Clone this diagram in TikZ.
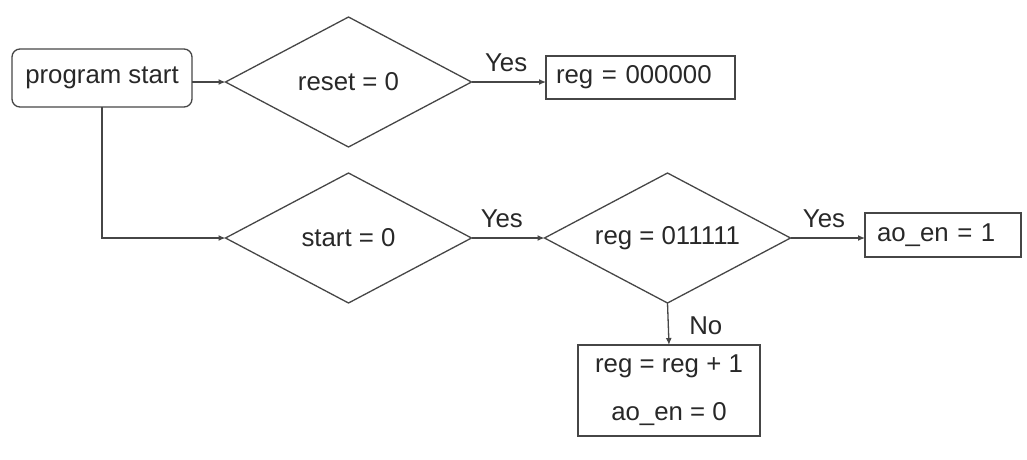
\documentclass[tikz,border=0pt]{standalone}
\usepackage{fontspec}
\setmainfont{Liberation Sans}
\usetikzlibrary{shapes.geometric,arrows.meta}
\definecolor{ln}{RGB}{70,70,70}
\definecolor{tx}{RGB}{40,40,40}
\begin{document}
\begin{tikzpicture}[x=1pt,y=-1pt,
  every node/.style={font=\fontsize{25.8}{30}\selectfont, text=tx},
  box/.style={draw=ln, line width=1.3pt, inner sep=0pt, outer sep=0pt},
  startbox/.style={box, rounded corners=8pt, minimum width=180pt, minimum height=58pt},
  dec/.style={draw=ln, line width=1.3pt, diamond, aspect=1.89, minimum width=246pt, minimum height=130pt, inner sep=0pt, outer sep=0pt},
  conn/.style={draw=ln, line width=1.3pt, -{Latex[length=7pt,width=6pt]}},
  lab/.style={anchor=base, yshift=11pt, inner sep=0pt}
]
\useasboundingbox (0,0) rectangle (1027,459);

\node[startbox] (ps) at (102,78) {program start};
\node[dec] (d1) at (348.5,82) {reset = 0};
\node[dec] (d2) at (348.5,238) {start = 0};
\node[dec] (d3) at (667.5,238) {reg = 011111};
\node[box, minimum width=189pt, minimum height=43pt, text width=169pt, align=left] (r0) at (640.5,77.5) {reg = 000000};
\node[box, minimum width=156pt, minimum height=44pt, text width=132pt, align=left] (ao) at (943,235) {ao\_en = 1};
\node[box, minimum width=182pt, minimum height=91pt, align=center] (r1) at (669,390.5) {reg = reg + 1\\[18pt]ao\_en = 0};

\draw[conn] (ps.east |- d1.west) -- (d1.west);
\draw[conn] (ps.south) -- (ps.south |- d2.west) -- (d2.west);
\draw[conn] (d1.east) -- node[lab, pos=0.465]{Yes} (r0.west |- d1.east);
\draw[conn] (d2.east) -- node[lab, pos=0.415]{Yes} (d3.west);
\draw[conn] (d3.east) -- node[lab, pos=0.45]{Yes} (ao.west |- d3.east);
\draw[conn] (d3.south) -- node[anchor=base west, inner sep=0pt, pos=0.74, xshift=20pt]{No} (r1.north);
\end{tikzpicture}
\end{document}
